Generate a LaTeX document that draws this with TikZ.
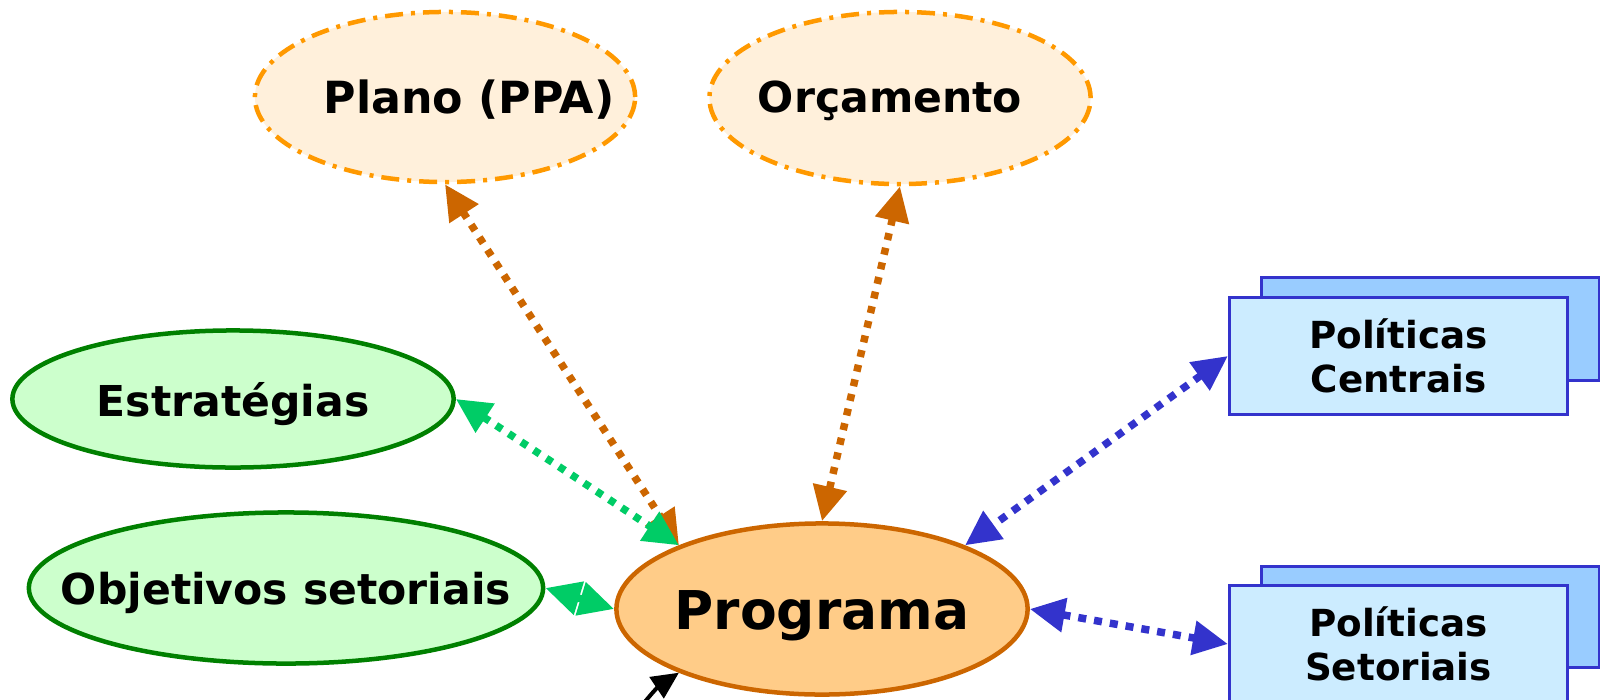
\documentclass[tikz,border=0pt]{standalone}
\usepackage{fontspec}
\setmainfont{DejaVu Sans}
\usetikzlibrary{arrows.meta,shapes.geometric}

\definecolor{dashorange}{HTML}{FF9900}
\definecolor{peach}{HTML}{FFF0DB}
\definecolor{darkgreen}{HTML}{008000}
\definecolor{palegreen}{HTML}{CCFFCC}
\definecolor{linkgreen}{HTML}{00CC66}
\definecolor{linkbrown}{HTML}{CC6600}
\definecolor{progfill}{HTML}{FFCC88}
\definecolor{polblue}{HTML}{3333CC}
\definecolor{lightblue}{HTML}{CCECFF}
\definecolor{backblue}{HTML}{99CCFF}

\newcommand{\ctext}[2][0.05cm]{\makebox[0pt]{\raisebox{-#1}[\height][\depth]{#2}}}

\begin{document}
\begin{tikzpicture}[x=0.01cm,y=-0.01cm,
    bigtip/.style={{Triangle[length=0.35cm,width=0.33cm]}-{Triangle[length=0.35cm,width=0.33cm]}}]
\clip (0,0) rectangle (1600,700);
\begin{scope}[every node/.style={ellipse,inner sep=0pt,line width=0.045cm,font=\bfseries\fontsize{12.1}{14}\selectfont}]
    \node[draw=dashorange,fill=peach,dash pattern=on 0.18cm off 0.08cm on 0.04cm off 0.08cm,font=\bfseries\fontsize{12.6}{14}\selectfont,
          minimum width=3.8cm,minimum height=1.7cm] (plano) at (445,97) {\ctext[0.03cm]{\hspace*{0.48cm}Plano (PPA)}};
    \node[draw=dashorange,fill=peach,dash pattern=on 0.18cm off 0.08cm on 0.04cm off 0.08cm,
          minimum width=3.81cm,minimum height=1.72cm] (orcamento) at (900,98) {\ctext[0.03cm]{Orçamento\hspace*{0.2cm}}};
    \node[draw=darkgreen,fill=palegreen,
          minimum width=4.41cm,minimum height=1.37cm] (estrategias) at (233,399) {\ctext{Estratégias}};
    \node[draw=darkgreen,fill=palegreen,
          minimum width=5.14cm,minimum height=1.51cm] (objetivos) at (286,588) {\ctext{Objetivos setoriais}};
    \node[draw=linkbrown,fill=progfill,font=\bfseries\fontsize{15.2}{18}\selectfont,
          minimum width=4.11cm,minimum height=1.71cm] (programa) at (822,609) {\ctext[0.07cm]{Programa}};
\end{scope}
\begin{scope}[every node/.style={rectangle,draw=polblue,line width=0.03cm,
              minimum width=3.38cm,align=center,font=\bfseries\fontsize{10.6}{12.5}\selectfont}]
    \node[fill=backblue,minimum height=1.02cm] (centraisback) at (1430.5,329) {};
    \node[fill=lightblue,minimum height=1.16cm] (centrais) at (1398.5,356) {Políticas\\Centrais};
    \node[fill=backblue,minimum height=1.00cm] (setoriaisback) at (1430.5,617) {};
    \node[fill=lightblue,minimum height=1.16cm] (setoriais) at (1398.5,644) {Políticas\\Setoriais};
\end{scope}
\begin{scope}[every edge/.style={draw=linkbrown,line width=0.075cm,dash pattern=on 0.07cm off 0.08cm,bigtip}]
    \path (plano.south) edge (programa.156);
    \path (orcamento.south) edge (programa.north);
\end{scope}
\begin{scope}[every edge/.style={draw=linkgreen,line width=0.075cm,dash pattern=on 0.07cm off 0.08cm,bigtip}]
    \path (estrategias.east) edge (programa.156);
    \path (objetivos.east) edge (programa.west);
\end{scope}
\begin{scope}[every edge/.style={draw=polblue,line width=0.075cm,dash pattern=on 0.08cm off 0.08cm,bigtip}]
    \path (centrais.west) edge (programa.24);
    \path (programa.east) edge (setoriais.west);
\end{scope}
\coordinate (below) at (634,716);
\draw[line width=0.04cm,-{Triangle[length=0.27cm,width=0.25cm]}] (below) to[bend left=10] (programa.204);
\end{tikzpicture}
\end{document}
